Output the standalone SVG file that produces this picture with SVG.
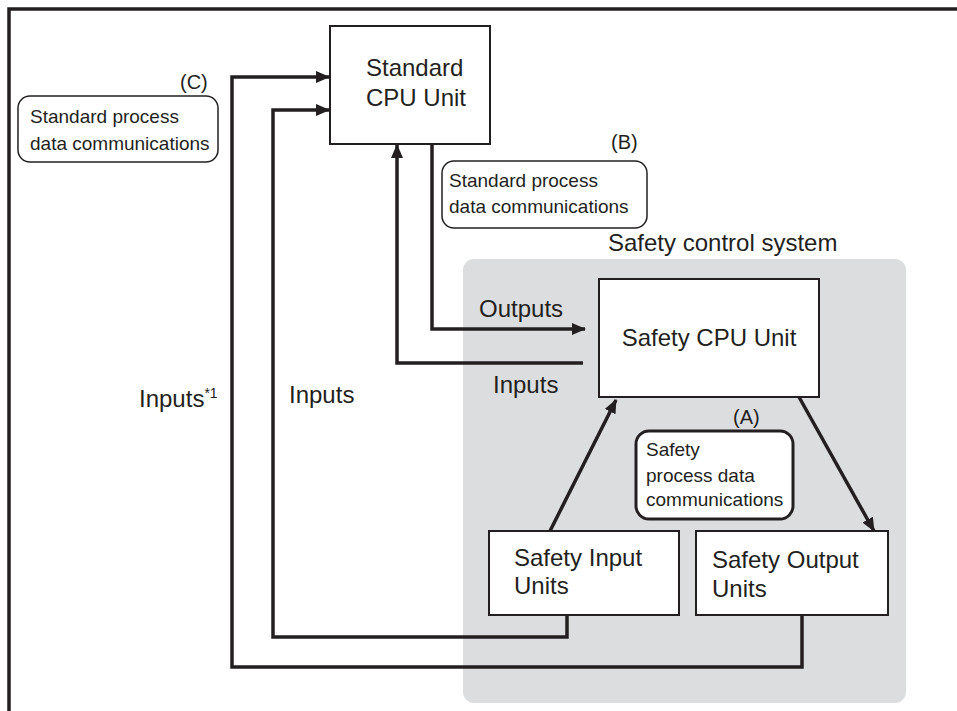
<svg xmlns="http://www.w3.org/2000/svg" width="957" height="711" viewBox="0 0 957 711">
<style>
text{font-family:"Liberation Sans",Arial,sans-serif;fill:#231f20}
.box{fill:#fff;stroke:#231f20;stroke-width:2}
.bub{fill:#fff;stroke:#231f20;stroke-width:1.5}
.conn{fill:none;stroke:#231f20;stroke-width:3.5;stroke-linejoin:miter}
.big{font-size:24px}
.sm{font-size:19px}
.tag{font-size:20px}
</style>
<defs>
<marker id="ah" viewBox="0 0 14 12" refX="13" refY="6" markerWidth="14" markerHeight="12" markerUnits="userSpaceOnUse" orient="auto">
<path d="M0,0 L14,6 L0,12 z" fill="#231f20"/>
</marker>
</defs>
<g id="frame">
<path d="M9,711 V9 H957" fill="none" stroke="#231f20" stroke-width="3.5"/>
</g>
<g id="safety-system">
<rect x="463" y="259" width="443" height="444" rx="11" fill="#dcdddf"/>
<text x="608" y="251" class="big">Safety control system</text>
</g>
<g id="connectors">
<path class="conn" d="M802,615 V667 H232 V77 H329" marker-end="url(#ah)"/>
<path class="conn" d="M567,615 V637 H273 V110 H329" marker-end="url(#ah)"/>
<path class="conn" d="M583,363 H397 V145" marker-end="url(#ah)"/>
<path class="conn" d="M432,144 V329 H585" marker-end="url(#ah)"/>
<path class="conn" d="M550,531 L616,400" marker-end="url(#ah)"/>
<path class="conn" d="M799,397 L874,531" marker-end="url(#ah)"/>
</g>
<g id="standard-cpu">
<rect class="box" x="330" y="26" width="160" height="118"/>
<text x="366" y="76" class="big">Standard</text>
<text x="366" y="106" class="big">CPU Unit</text>
</g>
<g id="safety-cpu">
<rect class="box" x="599" y="279" width="220" height="118"/>
<text x="709" y="346" class="big" text-anchor="middle">Safety CPU Unit</text>
</g>
<g id="safety-input">
<rect class="box" x="489" y="531" width="190" height="84"/>
<text x="514" y="566" class="big">Safety Input</text>
<text x="514" y="594" class="big">Units</text>
</g>
<g id="safety-output">
<rect class="box" x="696" y="531" width="192" height="84"/>
<text x="712" y="568" class="big">Safety Output</text>
<text x="712" y="597" class="big">Units</text>
</g>
<g id="bubble-c">
<text x="180" y="89" class="tag">(C)</text>
<rect class="bub" x="18" y="96" width="200" height="66" rx="12"/>
<text x="30" y="123" class="sm">Standard process</text>
<text x="30" y="150" class="sm">data communications</text>
</g>
<g id="bubble-b">
<text x="611" y="149" class="tag">(B)</text>
<rect class="bub" x="442" y="161" width="205" height="67" rx="12"/>
<text x="449" y="187" class="sm">Standard process</text>
<text x="449" y="213" class="sm">data communications</text>
</g>
<g id="bubble-a">
<text x="733" y="424" class="tag">(A)</text>
<rect x="636" y="431" width="157" height="88" rx="13" fill="#fff" stroke="#231f20" stroke-width="3"/>
<text x="646" y="456" class="sm">Safety</text>
<text x="646" y="482" class="sm">process data</text>
<text x="646" y="506" class="sm">communications</text>
</g>
<g id="labels">
<text x="479" y="317" class="big">Outputs</text>
<text x="493" y="393" class="big">Inputs</text>
<text x="139" y="407" class="big">Inputs<tspan font-size="14" dy="-9">*1</tspan></text>
<text x="289" y="403" class="big">Inputs</text>
</g>
</svg>
